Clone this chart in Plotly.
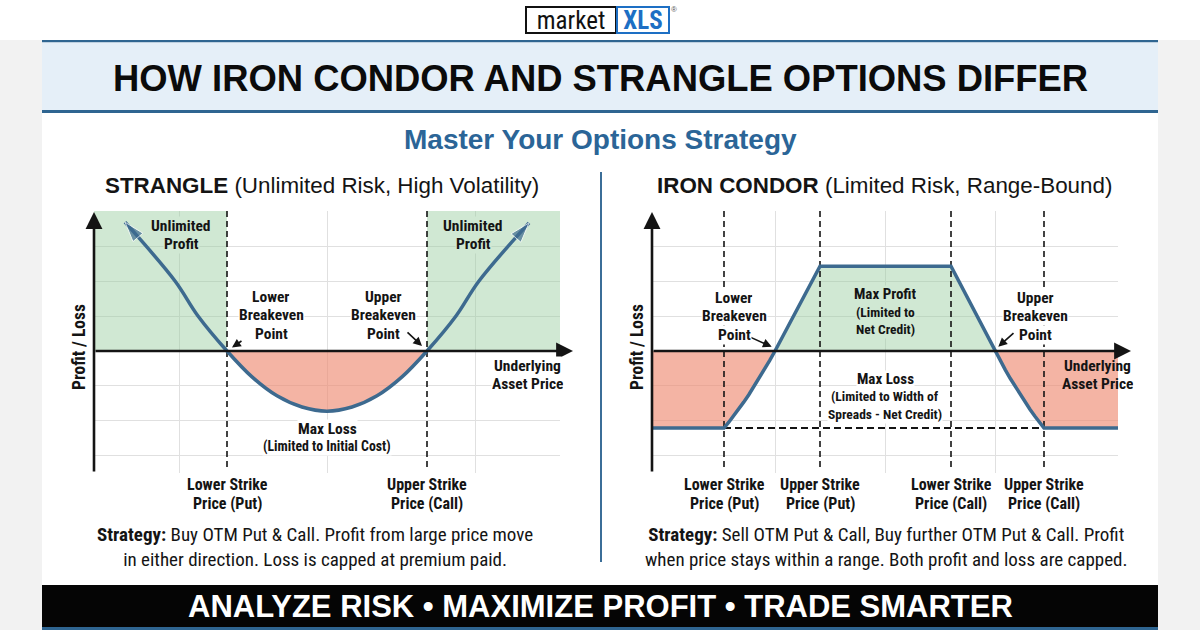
import plotly.graph_objects as go

# ---------------- data ----------------
# Strangle payoff (underlying price vs profit/loss, arbitrary units)
strangle_price = [79.8, 84.8, 87.1, 90.0, 92.5, 95.0, 97.5, 100.0, 102.5, 105.0, 107.5, 110.0, 112.9, 115.2, 120.2]
strangle_pl = [18.4, 10.0, 5.0, 0.0, -3.7, -6.4, -8.0, -8.6, -8.0, -6.4, -3.7, 0.0, 5.0, 10.0, 18.3]
strangle_strikes = [90.0, 110.0]
strangle_strike_labels = [["Lower Strike", "Price (Put)"], ["Upper Strike", "Price (Call)"]]

# Iron condor payoff
condor_price = [76.7, 83.9, 84.38, 84.87, 85.37, 85.87, 86.38, 86.89, 87.41, 87.93, 88.46, 89.0,
                93.5, 106.6,
                111.0, 111.52, 112.03, 112.53, 113.03, 113.52, 114.01, 114.49, 114.97, 115.44, 115.9, 123.3]
condor_pl = [-11.0, -11.0, -10.17, -9.29, -8.33, -7.31, -6.25, -5.11, -3.93, -2.69, -1.37, 0.0,
             12.1, 12.1,
             0.0, -1.37, -2.69, -3.93, -5.11, -6.25, -7.31, -8.33, -9.29, -10.17, -11.0, -11.0]
condor_strikes = [83.9, 93.5, 106.6, 115.9]
condor_breakevens = [89.0, 111.0]
condor_strike_labels = [["Lower Strike", "Price (Put)"], ["Upper Strike", "Price (Put)"],
                        ["Lower Strike", "Price (Call)"], ["Upper Strike", "Price (Call)"]]

price_range = [76.7, 123.3]
pl_range = [-17.43, 20.0]
axis_tip_price = 124.6
axis_tip_pl = 19.86
dash_bottom_pl = -17.1
strangle_grid_x = [85.2, 100.0, 114.8]
condor_grid_x = [89.0, 100.0, 111.0]
pl_grid = [-15, -10, -5, 5, 10, 15, 20]

# ---------------- style ----------------
W, H = 1200, 630
PX_PER_PL = 7.0   # vertical pixels per P/L unit in both panels
SANS = "Liberation Sans, Arial, Helvetica, sans-serif"
NARROW = "Liberation Sans Narrow, Arial Narrow, Roboto Condensed, Roboto, sans-serif"
INK = "#141414"
BLUE = "#3d6a8f"
GREEN = "rgba(151,204,158,0.45)"
GREEN_BG = "#d0e8d3"
RED = "rgba(238,140,115,0.65)"
GRID = "#e0e0e0"
NAVY = "#2f6591"


def px(x):
    return x / W


def py(y):
    return 1 - y / H


fig = go.Figure()

common_axis = dict(showticklabels=False, ticks="", zeroline=False, showline=False,
                   showgrid=True, gridcolor=GRID, gridwidth=1, fixedrange=True)
fig.update_layout(
    width=W, height=H, margin=dict(l=0, r=0, t=0, b=0),
    paper_bgcolor="white", plot_bgcolor="rgba(0,0,0,0)",
    showlegend=False, hovermode=False,
    xaxis=dict(domain=[px(94), px(560)], range=price_range, tickvals=strangle_grid_x, anchor="y", **common_axis),
    yaxis=dict(domain=[py(473), py(211)], range=pl_range, tickvals=pl_grid, anchor="x", **common_axis),
    xaxis2=dict(domain=[px(652), px(1118)], range=price_range, tickvals=condor_grid_x, anchor="y2", **common_axis),
    yaxis2=dict(domain=[py(473), py(211)], range=pl_range, tickvals=pl_grid, anchor="x2", **common_axis),
)


def line_trace(x, y, xa, ya, color=INK, width=2, dash=None, shape="linear", fill=None, fillcolor=None):
    fig.add_trace(go.Scatter(x=x, y=y, mode="lines", xaxis=xa, yaxis=ya,
                             line=dict(color=color, width=width, dash=dash, shape=shape),
                             fill=fill, fillcolor=fillcolor, hoverinfo="skip", showlegend=False))


x_lo, x_hi = price_range
top = pl_range[1]

# ---------------- STRANGLE panel ----------------
k_lo, k_hi = strangle_strikes
for xa_, xb_ in [(x_lo, k_lo), (k_hi, x_hi)]:
    line_trace([xa_, xb_, xb_, xa_, xa_], [0, 0, top, top, 0], "x", "y", width=0,
               fill="toself", fillcolor=GREEN)
loss_x = [p for p in strangle_price if k_lo <= p <= k_hi]
loss_y = [v for p, v in zip(strangle_price, strangle_pl) if k_lo <= p <= k_hi]
line_trace(loss_x, loss_y, "x", "y", width=0, shape="spline", fill="tozeroy", fillcolor=RED)
for k in strangle_strikes:
    line_trace([k, k], [top, dash_bottom_pl], "x", "y", color=INK, width=1.6, dash="6px,4px")
line_trace(strangle_price, strangle_pl, "x", "y", color=BLUE, width=3.5, shape="spline")
for i0, i1 in [(1, 0), (-2, -1)]:
    fig.add_trace(go.Scatter(x=[strangle_price[i0], strangle_price[i1]], y=[strangle_pl[i0], strangle_pl[i1]],
                             mode="markers", xaxis="x", yaxis="y", cliponaxis=False,
                             marker=dict(symbol="arrow", size=[0, 21], angleref="previous", color=BLUE),
                             hoverinfo="skip", showlegend=False))

# ---------------- IRON CONDOR panel ----------------
be_lo, be_hi = condor_breakevens
segments = [
    ([p for p in condor_price if p <= be_lo], [v for p, v in zip(condor_price, condor_pl) if p <= be_lo], RED),
    ([p for p in condor_price if be_lo <= p <= be_hi], [v for p, v in zip(condor_price, condor_pl) if be_lo <= p <= be_hi], GREEN),
    ([p for p in condor_price if p >= be_hi], [v for p, v in zip(condor_price, condor_pl) if p >= be_hi], RED),
]
for sx, sy, col in segments:
    line_trace(sx, sy, "x2", "y2", width=0, fill="tozeroy", fillcolor=col)
for k in condor_strikes:
    line_trace([k, k], [top, dash_bottom_pl], "x2", "y2", color=INK, width=1.6, dash="6px,4px")
max_loss = min(condor_pl)
line_trace([condor_strikes[0], condor_strikes[-1]], [max_loss, max_loss], "x2", "y2",
           color=INK, width=1.8, dash="7px,4px")
line_trace(condor_price, condor_pl, "x2", "y2", color=BLUE, width=3.5)


# ---------------- axes arrows ----------------
def arrow(xa, ya, x0, y0, x1, y1, width, size, color=INK, head=2):
    fig.add_annotation(x=x1, y=y1, ax=x0, ay=y0, xref=xa, yref=ya, axref=xa, ayref=ya,
                       text="", showarrow=True, arrowhead=head, arrowsize=size,
                       arrowwidth=width, arrowcolor=color)


for xa, ya in [("x", "y"), ("x2", "y2")]:
    arrow(xa, ya, x_lo, 0, axis_tip_price, 0, 2.6, 1.3)
    arrow(xa, ya, x_lo, pl_range[0], x_lo, axis_tip_pl, 2.6, 1.3)

# breakeven pointer arrows
arrow("x", "y", 91.6, 1.57, 90.5, 0.5, 1.6, 1.1)
arrow("x", "y", 107.9, 2.86, 109.5, 0.71, 1.6, 1.1)
arrow("x2", "y2", 86.43, 2.04, 88.67, 0.61, 1.6, 1.1)
arrow("x2", "y2", 113.0, 2.76, 111.33, 0.61, 1.6, 1.1)


# ---------------- text ----------------
def label(lines, x, yc, xref, yref, step_px, sizes, bg=None, family=NARROW, bold=True, color=INK):
    """A block of single-line annotations centred on yc, one line-step apart
    (tighter than plotly's <br> spacing, like the reference)."""
    if not isinstance(sizes, list):
        sizes = [sizes] * len(lines)
    step = step_px / (H if yref == "paper" else PX_PER_PL)
    y0 = yc + step * (len(lines) - 1) / 2
    for i, (t, s) in enumerate(zip(lines, sizes)):
        txt = f"<b>{t}</b>" if bold else t
        fig.add_annotation(x=x, y=y0 - i * step, xref=xref, yref=yref, text=txt, showarrow=False,
                           xanchor="center", yanchor="middle", valign="middle",
                           borderpad=0, bgcolor=bg, height=step_px - 0.6,
                           font=dict(family=family, size=s, color=color))


def ptext(xp, yp, text, family, size, color=INK, **kw):
    fig.add_annotation(x=px(xp), y=py(yp), xref="paper", yref="paper", text=text, showarrow=False,
                       xanchor="center", yanchor="middle", font=dict(family=family, size=size, color=color), **kw)


LBL = 15.5
SUB = 13.8
# strangle labels
label(["Unlimited", "Profit"], 85.4, 16.57, "x", "y", 18.5, LBL, bg=GREEN_BG)
label(["Unlimited", "Profit"], 114.6, 16.57, "x", "y", 18.5, LBL, bg=GREEN_BG)
label(["Lower", "Breakeven", "Point"], 94.4, 5.14, "x", "y", 18.5, LBL, bg="white")
label(["Upper", "Breakeven", "Point"], 105.6, 5.14, "x", "y", 18.5, LBL, bg="white")
label(["Max Loss", "(Limited to Initial Cost)"], 100.0, -12.36, "x", "y", 18, [LBL, SUB], bg="white")
label(["Underlying", "Asset Price"], 120.0, -3.43, "x", "y", 18.5, LBL, bg="white")
for k, lab in zip(strangle_strikes, strangle_strike_labels):
    label(lab, k, py(493.5), "x", "paper", 19, 16)

# condor labels
label(["Lower", "Breakeven", "Point"], 84.9, 4.93, "x2", "y2", 18.5, LBL, bg="white")
label(["Upper", "Breakeven", "Point"], 115.0, 4.93, "x2", "y2", 18.5, LBL, bg="white")
label(["Max Profit", "(Limited to", "Net Credit)"], 100.0, 5.57, "x2", "y2", 17.2,
      [15, 13.5, 13.5], bg=GREEN_BG)
label(["Max Loss", "(Limited to Width of", "Spreads - Net Credit)"], 100.0, -6.57, "x2", "y2", 17.2,
      [15, 13.5, 13.5], bg="white")
label(["Underlying", "Asset Price"], 121.2, -3.43, "x2", "y2", 18.5, LBL)
for k, lab in zip(condor_strikes, condor_strike_labels):
    label(lab, k, py(493.5), "x2", "paper", 19, 16)

# axis titles
for xp in [79, 637]:
    ptext(xp, 347, "<b>Profit / Loss</b>", NARROW, 17.5, textangle=-90)

# panel titles
ptext(322, 185, "<b>STRANGLE</b> (Unlimited Risk, High Volatility)", SANS, 22.4)
ptext(884, 185, "<b>IRON CONDOR</b> (Limited Risk, Range-Bound)", SANS, 22.4)

# strategy notes
ptext(315, 547, "<b>Strategy:</b> Buy OTM Put &amp; Call. Profit from large price move<br>"
                "in either direction. Loss is capped at premium paid.", NARROW, 19)
ptext(886, 547, "<b>Strategy:</b> Sell OTM Put &amp; Call, Buy further OTM Put &amp; Call. Profit<br>"
                "when price stays within a range. Both profit and loss are capped.", NARROW, 19)

# header / footer texts
ptext(600, 78, "<b>HOW IRON CONDOR AND STRANGLE OPTIONS DIFFER</b>", SANS, 36.4, "#0b0b0b")
ptext(600, 139, "<b>Master Your Options Strategy</b>", SANS, 28, "#2b6597")
ptext(600, 606, "<b>ANALYZE RISK • MAXIMIZE PROFIT • TRADE SMARTER</b>", SANS, 31, "white")

# logo
ptext(571, 20, "market", NARROW, 25, "#111", bordercolor="#111", borderwidth=2, borderpad=0,
      bgcolor="white", width=88, height=24)
ptext(643, 20, "<b>XLS</b>", NARROW, 25, "#1d6fc4", bordercolor="#1d6fc4", borderwidth=2, borderpad=0,
      bgcolor="white", width=50, height=24)
ptext(674, 10, "®", SANS, 8, "#555")

# ---------------- decorative background ----------------
shapes = []


def rect(x0, y0, x1, y1, color):
    shapes.append(dict(type="rect", xref="paper", yref="paper", x0=px(x0), x1=px(x1),
                       y0=py(y1), y1=py(y0), fillcolor=color, line_width=0, layer="below"))


rect(0, 40, 42, 630, "#f2f2f2")
rect(1158, 40, 1200, 630, "#f2f2f2")
rect(42, 40, 1158, 42.5, NAVY)
rect(42, 42.5, 1158, 110, "#e5eff8")
rect(42, 110, 1158, 113, NAVY)
rect(42, 585, 1158, 627, "#050505")
rect(42, 627, 1158, 630, NAVY)
shapes.append(dict(type="line", xref="paper", yref="paper", x0=px(601), x1=px(601),
                   y0=py(172), y1=py(562), line=dict(color="#3b6e98", width=2), layer="below"))
fig.update_layout(shapes=shapes)

fig.write_html("out.html", config={"displayModeBar": False},
               post_script="document.body.style.margin='0';document.body.style.overflow='hidden';")
